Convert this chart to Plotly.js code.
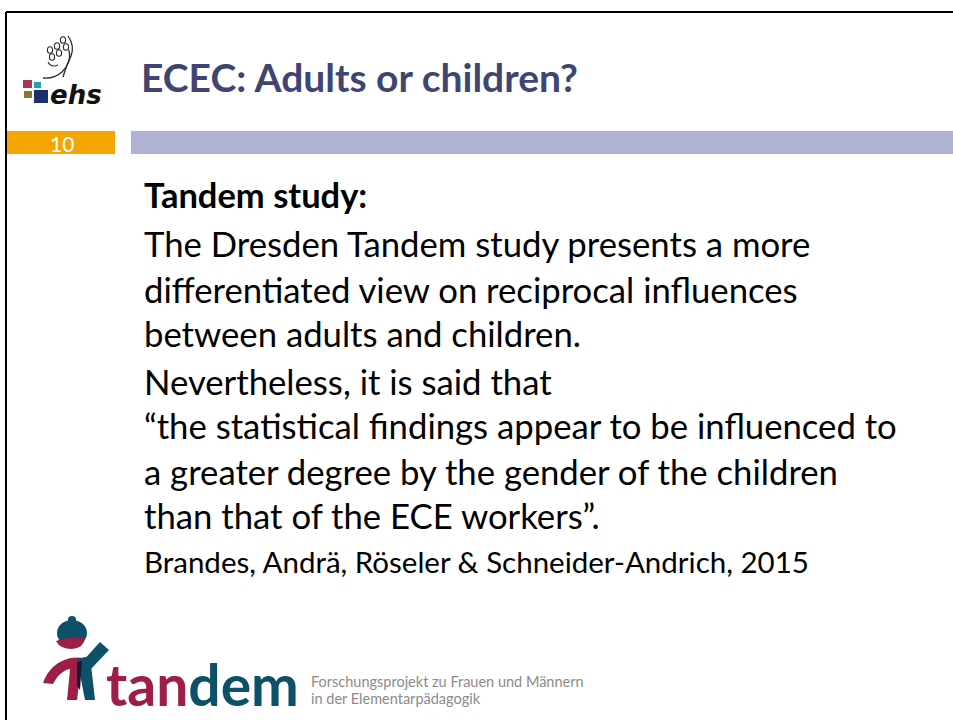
<!DOCTYPE html>
<html>
<head>
<meta charset="utf-8">
<script src="https://cdn.plot.ly/plotly-3.0.1.min.js"></script>
<style>html,body{margin:0;padding:0;background:#fff;}#chart{width:953px;height:720px;}</style>
</head>
<body>
<div id="chart"></div>
<script>
// ---- slide content ----
var slideTitle = "ECEC: Adults or children?";
var slideNumber = "10";
var heading = "Tandem study:";
var paragraph1 = [
  "The Dresden Tandem study presents a more",
  "differentiated view on reciprocal influences",
  "between adults and children."
];
var paragraph2 = [
  "Nevertheless, it is said that",
  "\u201cthe statistical findings appear to be influenced to",
  "a greater degree by the gender of the children",
  "than that of the ECE workers\u201d."
];
var citation = "Brandes, Andr\u00e4, R\u00f6seler & Schneider-Andrich, 2015";
var logoWordA = "tan";
var logoWordB = "dem";
var logoSub = ["Forschungsprojekt zu Frauen und M\u00e4nnern", "in der Elementarp\u00e4dagogik"];
var ehsText = "ehs";

// ---- layout / style ----
var FONT = "Lato, 'Open Sans', sans-serif";
var textX = 142;
var bodySize = 34.7;
var ann = [];
var shapes = [];

function txt(x, y, s, size, color, opts) {
  var a = {x: x, y: y, xref: 'x', yref: 'y', text: s, showarrow: false,
    xanchor: 'left', yanchor: 'middle', align: 'left',
    font: {family: FONT, size: size, color: color}};
  if (opts) for (var k in opts) a[k] = opts[k];
  ann.push(a);
}

// border lines
shapes.push({type: 'line', x0: 6, x1: 953, y0: 12, y1: 12, line: {color: '#000', width: 2}});
shapes.push({type: 'line', x0: 6, x1: 6, y0: 12, y1: 720, line: {color: '#000', width: 2}});
// number box and bar
shapes.push({type: 'rect', x0: 7, x1: 115, y0: 131, y1: 154, fillcolor: '#F4A500', line: {width: 0}});
shapes.push({type: 'rect', x0: 131, x1: 953, y0: 131, y1: 154, fillcolor: '#AFB3D1', line: {width: 0}});

// title
txt(139, 77, "<b>" + slideTitle + "</b>", 39, '#3F4573');
txt(62, 143, slideNumber, 21, '#ffffff', {xanchor: 'center'});

// body
txt(textX, 194, "<b>" + heading + "</b>", 34.5, '#000');
var bodyY = [243, 289, 333];
paragraph1.forEach(function (s, i) { txt(textX, bodyY[i], s, bodySize, '#000'); });
var body2Y = [381, 425, 471, 515];
paragraph2.forEach(function (s, i) { txt(textX, body2Y[i], s, bodySize, '#000'); });
txt(textX, 561, citation, 29.5, '#000');

// ehs logo squares
shapes.push({type: 'rect', x0: 23, x1: 32, y0: 80, y1: 88, fillcolor: '#A8394F', line: {width: 0}});
shapes.push({type: 'rect', x0: 34, x1: 41, y0: 82, y1: 88, fillcolor: '#1FA3A5', line: {width: 0}});
shapes.push({type: 'rect', x0: 24, x1: 32, y0: 91, y1: 98, fillcolor: '#8A7A2E', line: {width: 0}});
shapes.push({type: 'rect', x0: 34, x1: 48, y0: 90, y1: 103, fillcolor: '#1B2F6E', line: {width: 0}});
txt(48, 95, "<b><i>" + ehsText + "</i></b>", 26, '#111', {font: {family: "'DejaVu Sans', sans-serif", size: 26, color: '#111'}});
// ehs figures (small heads and strokes)
var heads = [[50, 50], [57, 46], [63, 40], [52, 57], [59, 53], [66, 47]];
heads.forEach(function (h) {
  shapes.push({type: 'circle', x0: h[0] - 2.6, x1: h[0] + 2.6, y0: h[1] - 3.3, y1: h[1] + 3.3, line: {color: '#2a2a2a', width: 1.1}});
});
shapes.push({type: 'path', path: 'M 69 50 Q 72 62 62 72 Q 54 79 43 78', line: {color: '#2a2a2a', width: 1.3}});
shapes.push({type: 'path', path: 'M 68 36 Q 75 46 71 56 Q 66 66 63 77', line: {color: '#2a2a2a', width: 1.3}});
shapes.push({type: 'path', path: 'M 48 62 Q 51 68 58 65', line: {color: '#2a2a2a', width: 1.1}});

// tandem figure
shapes.push({type: 'path', path: 'M 84 658 Q 66 655 53 667 Q 46 674 43 683 L 53 684 Q 58 674 66 670 Q 74 667 84 668 Z', fillcolor: '#9E1E48', line: {width: 0}});
shapes.push({type: 'path', path: 'M 71 660 L 82 659 L 77 700 L 67 700 Z', fillcolor: '#9E1E48', line: {width: 0}});
shapes.push({type: 'path', path: 'M 77 659 L 90 656 L 95 700 L 85 700 Z', fillcolor: '#0E5068', line: {width: 0}});
shapes.push({type: 'path', path: 'M 82 662 L 100 642 L 109 650 L 90 670 Z', fillcolor: '#0E5068', line: {width: 0}});
shapes.push({type: 'path', path: 'M 77 662 L 82 661 L 80 690 L 77 686 Z', fillcolor: '#1A1838', line: {width: 0}});
shapes.push({type: 'circle', x0: 57, x1: 87, y0: 620, y1: 646, fillcolor: '#0E5068', line: {width: 0}});
shapes.push({type: 'circle', x0: 68, x1: 76, y0: 616, y1: 623, fillcolor: '#0E5068', line: {width: 0}});
shapes.push({type: 'path', path: 'M 56 641 Q 70 636 85 638 Q 84 648 72 649 Q 60 649 56 641 Z', fillcolor: '#9E1E48', line: {width: 0}});

txt(104, 684, "<b><span style='color:#9E1E48'>" + logoWordA + "</span><span style='color:#0E5068'>" + logoWordB + "</span></b>", 57, '#9E1E48');
txt(309, 681, logoSub[0], 14.5, '#8A8A8A');
txt(309, 698, logoSub[1], 14.5, '#8A8A8A');

var layout = {
  width: 953, height: 720,
  margin: {l: 0, r: 0, t: 0, b: 0},
  paper_bgcolor: '#fff', plot_bgcolor: '#fff',
  xaxis: {range: [0, 953], visible: false, fixedrange: true},
  yaxis: {range: [720, 0], visible: false, fixedrange: true},
  shapes: shapes,
  annotations: ann,
  showlegend: false
};
Plotly.newPlot('chart', [], layout, {displayModeBar: false, staticPlot: true});
</script>
</body>
</html>
